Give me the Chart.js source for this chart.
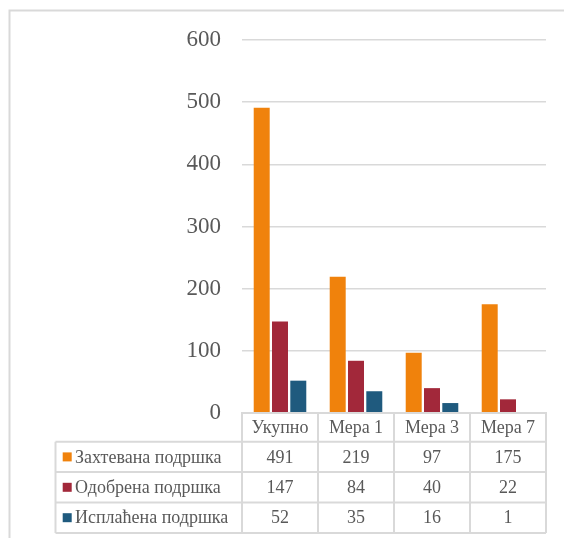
<!DOCTYPE html>
<html>
<head>
<meta charset="utf-8">
<script src="https://cdn.jsdelivr.net/npm/chart.js@4"></script>
<style>
  html, body { margin: 0; padding: 0; background: #fff; }
  #wrap { width: 564px; height: 538px; }
</style>
</head>
<body>
<div id="wrap"><canvas id="chart" width="564" height="538"></canvas></div>
<script>
// data
const categories = ['Укупно', 'Мера 1', 'Мера 3', 'Мера 7'];
const seriesNames = ['Захтевана подршка', 'Одобрена подршка', 'Исплаћена подршка'];
const requested = [491, 219, 97, 175];
const approved = [147, 84, 40, 22];
const paid = [52, 35, 16, 1];
const colors = ['#F0820C', '#A2283A', '#1F5A7E'];

const FONT = "'Times New Roman', 'Liberation Serif', serif";
const TEXT = '#595959';
const LINE = '#d9d9d9';

// frame + data table under the plot
const tablePlugin = {
  id: 'dataTable',
  beforeDraw(chart) {
    const ctx = chart.ctx;
    ctx.save();
    ctx.strokeStyle = LINE;
    ctx.lineWidth = 2;
    ctx.beginPath();
    ctx.moveTo(9.5, 538);
    ctx.lineTo(9.5, 10.5);
    ctx.lineTo(564, 10.5);
    ctx.stroke();
    ctx.restore();
  },
  afterDraw(chart) {
    const ctx = chart.ctx;
    const xs = chart.scales.x;
    const area = chart.chartArea;
    const colW = (area.right - area.left) / categories.length;
    const left = 55.5;
    const top = area.bottom;
    const headH = 28.7;
    const rowH = 30.4;
    const series = chart.data.datasets;

    ctx.save();
    ctx.strokeStyle = LINE;
    ctx.lineWidth = 2;

    // header cells
    ctx.beginPath();
    ctx.moveTo(area.left, top + headH);
    ctx.lineTo(area.left, top);
    ctx.lineTo(area.right, top);
    ctx.lineTo(area.right, top + headH);
    for (let i = 1; i < categories.length; i++) {
      const cx = area.left + colW * i;
      ctx.moveTo(cx, top);
      ctx.lineTo(cx, top + headH + rowH * series.length);
    }
    // body rows
    for (let r = 0; r <= series.length; r++) {
      const y = top + headH + rowH * r;
      ctx.moveTo(left, y);
      ctx.lineTo(area.right, y);
    }
    const bottom = top + headH + rowH * series.length;
    ctx.moveTo(left, top + headH);
    ctx.lineTo(left, bottom);
    ctx.moveTo(area.left, top + headH);
    ctx.lineTo(area.left, bottom);
    ctx.moveTo(area.right, top + headH);
    ctx.lineTo(area.right, bottom);
    ctx.stroke();

    ctx.fillStyle = TEXT;
    ctx.font = '18px ' + FONT;
    ctx.textBaseline = 'middle';
    ctx.textAlign = 'center';
    categories.forEach((c, i) => {
      ctx.fillText(c, xs.getPixelForValue(i), top + headH / 2 + 1);
    });

    series.forEach((ds, r) => {
      const cy = top + headH + rowH * r + rowH / 2 + 1;
      ctx.fillStyle = ds.backgroundColor;
      ctx.fillRect(62.7, cy - 5.5, 9, 9);
      ctx.fillStyle = TEXT;
      ctx.textAlign = 'left';
      ctx.fillText(ds.label, 75, cy);
      ctx.textAlign = 'center';
      ds.data.forEach((v, i) => {
        ctx.fillText(String(v), xs.getPixelForValue(i), cy);
      });
    });
    ctx.restore();
  }
};

new Chart(document.getElementById('chart'), {
  type: 'bar',
  data: {
    labels: categories,
    datasets: [
      { label: seriesNames[0], data: requested, backgroundColor: colors[0] },
      { label: seriesNames[1], data: approved, backgroundColor: colors[1] },
      { label: seriesNames[2], data: paid, backgroundColor: colors[2] }
    ]
  },
  options: {
    responsive: false,
    animation: false,
    events: [],
    layout: { padding: { left: 0, right: 18, top: 40, bottom: 125 } },
    datasets: { bar: { categoryPercentage: 0.722, barPercentage: 0.874 } },
    plugins: { legend: { display: false }, tooltip: { enabled: false } },
    scales: {
      x: { display: false },
      y: {
        min: 0,
        max: 600,
        afterFit(scale) { scale.width = 242; },
        border: { display: false },
        grid: { color: LINE, lineWidth: 1.5, drawTicks: false },
        ticks: {
          stepSize: 100,
          padding: 21,
          color: TEXT,
          font: { family: FONT, size: 23 }
        }
      }
    }
  },
  plugins: [tablePlugin]
});
</script>
</body>
</html>
